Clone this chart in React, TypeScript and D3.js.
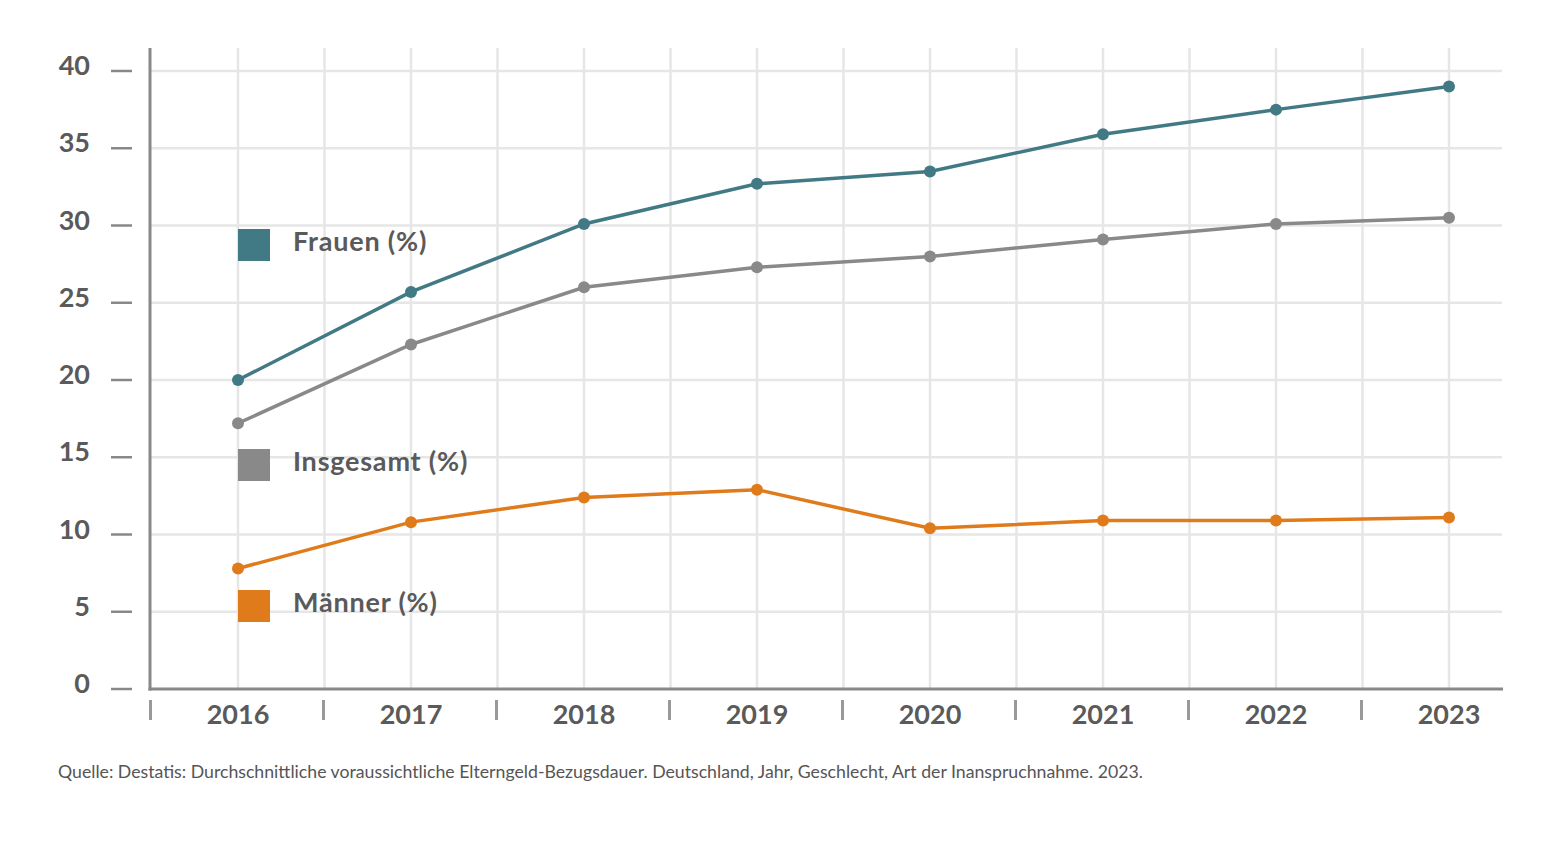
import { useEffect, useRef } from 'react';
import * as d3 from 'd3';

const WIDTH = 1560;
const HEIGHT = 843;

const years = ['2016', '2017', '2018', '2019', '2020', '2021', '2022', '2023'];
const frauen = [20.0, 25.7, 30.1, 32.7, 33.5, 35.9, 37.5, 39.0];
const insgesamt = [17.2, 22.3, 26.0, 27.3, 28.0, 29.1, 30.1, 30.5];
const maenner = [7.8, 10.8, 12.4, 12.9, 10.4, 10.9, 10.9, 11.1];
const yTicks = [0, 5, 10, 15, 20, 25, 30, 35, 40];

const SERIES = [
  { name: 'Frauen (%)', values: frauen, color: '#417a84', legendY: 245 },
  { name: 'Insgesamt (%)', values: insgesamt, color: '#898989', legendY: 465 },
  { name: 'Männer (%)', values: maenner, color: '#e07b1c', legendY: 606 },
];

const FONT = 'Lato, "Open Sans", sans-serif';
const TEXT = '#5a5a5a';

function App() {
  const svgRef = useRef(null);

  useEffect(() => {
    const svg = d3.select(svgRef.current);
    svg.selectAll('*').remove();

    const left = 150;
    const right = 1502;
    const top = 48;

    const x = d3.scaleBand()
      .domain(years)
      .range([151.5, 1535.5])
      .padding(0);
    const cx = (d) => (x(d) || 0) + x.bandwidth() / 2;

    const y = d3.scaleLinear()
      .domain([0, 40])
      .range([689, 71]);

    // grid
    const grid = svg.append('g').attr('stroke', '#e6e6e6').attr('stroke-width', 2.5);
    grid.selectAll('line.h')
      .data(yTicks.filter((t) => t > 0))
      .join('line')
      .attr('class', 'h')
      .attr('x1', left).attr('x2', right)
      .attr('y1', (d) => y(d)).attr('y2', (d) => y(d));
    const vx = years.map(cx).concat(years.slice(1).map((d) => x(d) || 0));
    grid.selectAll('line.v')
      .data(vx)
      .join('line')
      .attr('class', 'v')
      .attr('x1', (d) => d).attr('x2', (d) => d)
      .attr('y1', top).attr('y2', y(0));

    // axes
    svg.append('line')
      .attr('x1', left).attr('x2', left)
      .attr('y1', top).attr('y2', y(0) + 1.5)
      .attr('stroke', '#888').attr('stroke-width', 3);
    svg.append('line')
      .attr('x1', left - 1.5).attr('x2', right + 1)
      .attr('y1', y(0)).attr('y2', y(0))
      .attr('stroke', '#888').attr('stroke-width', 3);

    // y ticks
    const yAxis = svg.append('g');
    yAxis.selectAll('line')
      .data(yTicks)
      .join('line')
      .attr('x1', 111).attr('x2', 132)
      .attr('y1', (d) => y(d)).attr('y2', (d) => y(d))
      .attr('stroke', '#888').attr('stroke-width', 2.5);
    yAxis.selectAll('text')
      .data(yTicks)
      .join('text')
      .attr('x', 90)
      .attr('y', (d) => y(d) + 4)
      .attr('text-anchor', 'end')
      .attr('font-family', FONT)
      .attr('font-weight', 700)
      .attr('font-size', 27)
      .attr('fill', TEXT)
      .text((d) => d);

    // x ticks
    const xAxis = svg.append('g');
    xAxis.selectAll('line')
      .data(years)
      .join('line')
      .attr('x1', (d) => (x(d) || 0) - 1).attr('x2', (d) => (x(d) || 0) - 1)
      .attr('y1', 700).attr('y2', 720)
      .attr('stroke', '#999').attr('stroke-width', 3);
    xAxis.selectAll('text')
      .data(years)
      .join('text')
      .attr('x', cx)
      .attr('y', 724)
      .attr('text-anchor', 'middle')
      .attr('font-family', FONT)
      .attr('font-weight', 700)
      .attr('font-size', 27)
      .attr('fill', TEXT)
      .text((d) => d);

    // lines
    const line = d3.line()
      .x((d, i) => cx(years[i]))
      .y((d) => y(d));

    SERIES.forEach((s) => {
      svg.append('path')
        .datum(s.values)
        .attr('d', line)
        .attr('fill', 'none')
        .attr('stroke', s.color)
        .attr('stroke-width', 3.5);
      svg.append('g')
        .selectAll('circle')
        .data(s.values)
        .join('circle')
        .attr('cx', (d, i) => cx(years[i]))
        .attr('cy', (d) => y(d))
        .attr('r', 6)
        .attr('fill', s.color);

      svg.append('rect')
        .attr('x', 238).attr('y', s.legendY - 16)
        .attr('width', 32).attr('height', 32)
        .attr('fill', s.color);
      svg.append('text')
        .attr('x', 293).attr('y', s.legendY + 6)
        .attr('font-family', FONT)
        .attr('font-weight', 700)
        .attr('font-size', 27)
        .attr('letter-spacing', 0.8)
        .attr('fill', TEXT)
        .text(s.name);
    });

    svg.append('text')
      .attr('x', 58).attr('y', 778)
      .attr('font-family', FONT)
      .attr('font-size', 17.7)
      .attr('fill', '#555')
      .text('Quelle: Destatis: Durchschnittliche voraussichtliche Elterngeld-Bezugsdauer. Deutschland, Jahr, Geschlecht, Art der Inanspruchnahme. 2023.');
  }, []);

  return (
    <div style={{ margin: '-8px' }}>
      <svg ref={svgRef} width={WIDTH} height={HEIGHT} style={{ display: 'block', background: '#fff' }} />
    </div>
  );
}

export default App;
